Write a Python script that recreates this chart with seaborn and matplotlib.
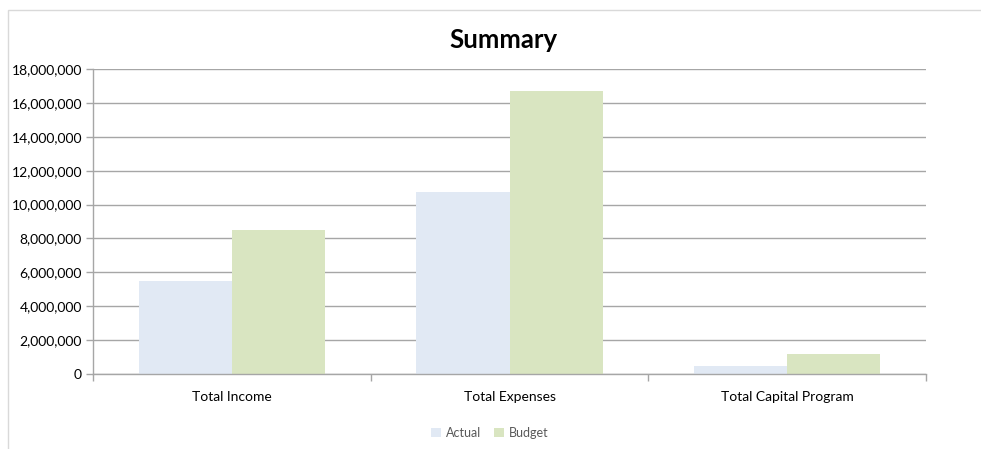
import matplotlib
matplotlib.use("Agg")
import matplotlib.pyplot as plt
import matplotlib.ticker as mticker
from matplotlib.patches import Rectangle
import seaborn as sns
import pandas as pd

categories = ["Total Income", "Total Expenses", "Total Capital Program"]
actual = [5470000, 10760000, 470000]
budget = [8470000, 16700000, 1180000]
series_names = ["Actual", "Budget"]
colors = ["#E1E9F4", "#D9E5C1"]
y_ticks = list(range(0, 18000001, 2000000))

df = pd.DataFrame({
    "Category": categories * 2,
    "Value": actual + budget,
    "Series": [series_names[0]] * 3 + [series_names[1]] * 3,
})

sns.set_theme(style="white")
plt.rcParams["font.family"] = ["Lato", "DejaVu Sans"]

W, H = 981, 449
fig = plt.figure(figsize=(W / 100, H / 100), dpi=100)
ax = fig.add_axes([93 / W, 1 - 374 / H, (926 - 93) / W, (374 - 69) / H])

sns.barplot(data=df, x="Category", y="Value", hue="Series", order=categories,
            hue_order=series_names, palette=colors, saturation=1, width=0.67,
            linewidth=0, edgecolor="none", ax=ax, legend=True)

ax.set_ylim(0, 18000000)
ax.set_xlim(-0.5, 2.5)
ax.set_yticks(y_ticks)
ax.yaxis.set_major_formatter(mticker.FuncFormatter(lambda v, p: f"{int(v):,}"))
ax.yaxis.grid(True, color="#A6A6A6", linewidth=1)
ax.set_axisbelow(True)
ax.set_xlabel("")
ax.set_ylabel("")

for s in ["top", "right"]:
    ax.spines[s].set_visible(False)
for s in ["left", "bottom"]:
    ax.spines[s].set_color("#A6A6A6")
    ax.spines[s].set_linewidth(1)

ax.tick_params(axis="y", which="major", length=5, width=1, color="#A6A6A6",
               direction="out", labelsize=10, labelcolor="#000000", pad=3, left=True)
ax.tick_params(axis="x", which="major", length=0, labelsize=10,
               labelcolor="#000000", pad=12)
ax.set_xticks([-0.5, 0.5, 1.5, 2.5], minor=True)
ax.tick_params(axis="x", which="minor", length=5, width=1, color="#A6A6A6",
               direction="out", bottom=True)

fig.text(503 / W, 1 - 48 / H, "Summary", fontsize=18.5, fontweight="bold",
         color="#000000", ha="center", va="baseline")

leg = ax.get_legend()
leg.remove()
handles, labels = ax.get_legend_handles_labels()
fig.legend(handles, labels, loc="center", bbox_to_anchor=(490 / W, 1 - 433 / H),
           ncol=2, frameon=False, fontsize=9, labelcolor="#595959",
           handlelength=0.8, handleheight=0.8, handletextpad=0.4, columnspacing=1.0)

fig.patches.append(Rectangle((8 / W, -0.05), 1.05, 1.05 - 10 / H,
                             transform=fig.transFigure, fill=False,
                             edgecolor="#D9D9D9", linewidth=1))

fig.savefig("out.png", dpi=100)
